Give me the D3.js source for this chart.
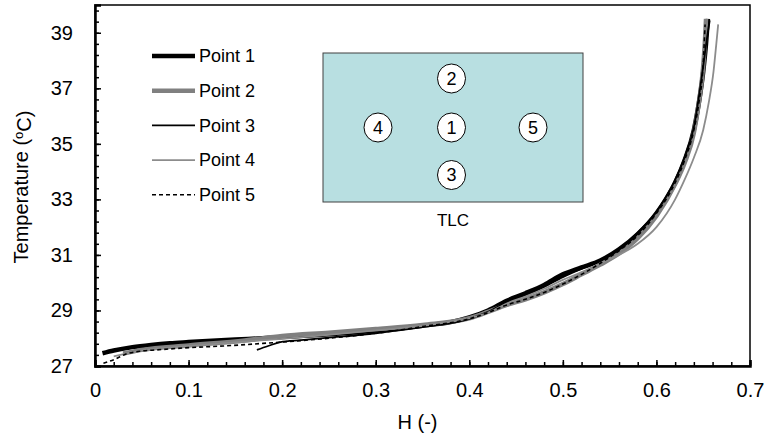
<!DOCTYPE html>
<html>
<head>
<meta charset="utf-8">
<script src="https://cdn.jsdelivr.net/npm/d3@7"></script>
<style>
  body { margin: 0; background: #fff; }
  text { font-family: "Liberation Sans", Arial, sans-serif; fill: #000; }
</style>
</head>
<body>
<div class="chart"></div>
<script>
// H (-) and temperature (C), one pair of arrays per point
const p1H = [0.008, 0.02, 0.04, 0.06, 0.08, 0.10, 0.15, 0.20, 0.25, 0.30, 0.35, 0.38, 0.40, 0.42, 0.44, 0.46, 0.48, 0.50, 0.52, 0.54, 0.56, 0.58, 0.60, 0.61, 0.62, 0.63, 0.64, 0.645, 0.65, 0.653, 0.655];
const p1T = [27.46, 27.56, 27.68, 27.76, 27.82, 27.86, 27.95, 28.04, 28.14, 28.28, 28.45, 28.58, 28.75, 29.0, 29.35, 29.62, 29.92, 30.3, 30.55, 30.8, 31.2, 31.75, 32.5, 33.0, 33.6, 34.4, 35.5, 36.4, 37.6, 38.6, 39.5];

const p2H = [0.03, 0.05, 0.10, 0.16, 0.20, 0.25, 0.30, 0.35, 0.40, 0.42, 0.44, 0.46, 0.48, 0.50, 0.52, 0.54, 0.56, 0.58, 0.60, 0.62, 0.63, 0.64, 0.645, 0.65, 0.652, 0.653];
const p2T = [27.45, 27.58, 27.74, 27.92, 28.08, 28.2, 28.33, 28.48, 28.72, 28.95, 29.2, 29.4, 29.65, 29.95, 30.3, 30.65, 31.05, 31.6, 32.4, 33.55, 34.3, 35.4, 36.4, 37.8, 38.8, 39.5];

const p3H = [0.173, 0.185, 0.198, 0.22, 0.25, 0.30, 0.35, 0.40, 0.42, 0.44, 0.46, 0.48, 0.50, 0.52, 0.54, 0.56, 0.58, 0.60, 0.62, 0.63, 0.64, 0.65, 0.654, 0.657];
const p3T = [27.58, 27.72, 27.86, 27.93, 28.02, 28.18, 28.4, 28.7, 28.95, 29.3, 29.55, 29.85, 30.2, 30.5, 30.78, 31.2, 31.8, 32.55, 33.7, 34.5, 35.6, 37.8, 38.8, 39.45];

const p4H = [0.02, 0.05, 0.10, 0.15, 0.20, 0.25, 0.30, 0.35, 0.40, 0.42, 0.44, 0.46, 0.48, 0.50, 0.52, 0.54, 0.56, 0.58, 0.60, 0.62, 0.63, 0.64, 0.65, 0.656, 0.661, 0.664, 0.666];
const p4T = [27.35, 27.55, 27.72, 27.85, 27.98, 28.12, 28.28, 28.45, 28.72, 28.92, 29.25, 29.5, 29.78, 30.1, 30.38, 30.7, 31.0, 31.4, 32.0, 33.0, 33.7, 34.5, 35.5, 36.5, 37.6, 38.6, 39.3];

const p5H = [0.009, 0.021, 0.034, 0.05, 0.066, 0.10, 0.137, 0.19, 0.25, 0.30, 0.35, 0.40, 0.42, 0.44, 0.46, 0.48, 0.50, 0.52, 0.54, 0.56, 0.58, 0.60, 0.62, 0.63, 0.64, 0.645, 0.65, 0.652];
const p5T = [27.1, 27.24, 27.44, 27.54, 27.58, 27.66, 27.72, 27.84, 28.0, 28.18, 28.42, 28.7, 28.92, 29.2, 29.4, 29.65, 29.95, 30.3, 30.7, 31.15, 31.7, 32.5, 33.6, 34.4, 35.5, 36.4, 37.9, 39.3];

const seriesNames = ['Point 1', 'Point 2', 'Point 3', 'Point 4', 'Point 5'];
const xTicks = [0, 0.1, 0.2, 0.3, 0.4, 0.5, 0.6, 0.7];
const yTicks = [27, 29, 31, 33, 35, 37, 39];

// the little sketch of the plate: label and grid position of each probe
const probeLabels = ['1', '2', '3', '4', '5'];
const probeCol = [1, 1, 1, 0, 2];
const probeRow = [1, 0, 2, 1, 1];

const width = 769, height = 442;
const margin = {top: 5, right: 19, bottom: 76, left: 95};

const svg = d3.select('.chart')
  .append('svg')
  .attr('width', width)
  .attr('height', height);

const x = d3.scaleLinear().domain([0, 0.7]).range([margin.left, width - margin.right]);
const y = d3.scaleLinear().domain([27, 40]).range([height - margin.bottom, margin.top]);

const styles = [
  {color: '#000', w: 4.5, dash: null},
  {color: '#808080', w: 4.5, dash: null},
  {color: '#000', w: 1.8, dash: null},
  {color: '#8c8c8c', w: 1.8, dash: null},
  {color: '#000', w: 1.6, dash: '4,3'}
];

const series = [[p1H, p1T], [p2H, p2T], [p3H, p3T], [p4H, p4T], [p5H, p5T]].map(function(s, i) {
  return {name: seriesNames[i], style: styles[i], values: s[0].map(function(h, j) { return {h: h, t: s[1][j]}; })};
});

// frame
svg.append('rect')
  .attr('x', x(0)).attr('y', y(40))
  .attr('width', x(0.7) - x(0)).attr('height', y(27) - y(40))
  .attr('fill', 'none').attr('stroke', '#000').attr('stroke-width', 1.5);

// minor ticks
const xMinor = d3.range(0, 0.7001, 0.02);
const yMinor = d3.range(27, 40.001, 0.4);

svg.append('g')
  .attr('transform', 'translate(0,' + y(27) + ')')
  .call(d3.axisBottom(x).tickValues(xMinor).tickSize(-4).tickFormat(''))
  .call(function(g) { g.select('.domain').remove(); })
  .selectAll('line').attr('stroke-width', 1.5);

svg.append('g')
  .attr('transform', 'translate(' + x(0) + ',0)')
  .call(d3.axisLeft(y).tickValues(yMinor).tickSize(-4).tickFormat(''))
  .call(function(g) { g.select('.domain').remove(); })
  .selectAll('line').attr('stroke-width', 1.5);

// major ticks and labels
const xAxis = svg.append('g')
  .attr('transform', 'translate(0,' + y(27) + ')')
  .call(d3.axisBottom(x).tickValues(xTicks).tickSize(-6).tickPadding(17).tickFormat(d3.format('')));
xAxis.select('.domain').attr('stroke-width', 2.5);
xAxis.selectAll('line').attr('stroke-width', 1.5);
xAxis.selectAll('text').style('font-size', '20px').style('font-family', '"Liberation Sans", Arial, sans-serif');

const yAxis = svg.append('g')
  .attr('transform', 'translate(' + x(0) + ',0)')
  .call(d3.axisLeft(y).tickValues(yTicks).tickSize(-6).tickPadding(22));
yAxis.select('.domain').attr('stroke-width', 2.5);
yAxis.selectAll('line').attr('stroke-width', 1.5);
yAxis.selectAll('text').style('font-size', '20px').style('font-family', '"Liberation Sans", Arial, sans-serif');

// axis titles
svg.append('text')
  .attr('x', (x(0) + x(0.7)) / 2 - 5)
  .attr('y', 429)
  .attr('text-anchor', 'middle')
  .style('font-size', '20px')
  .text('H (-)');

const yTitle = svg.append('text')
  .attr('transform', 'translate(28,' + 187 + ') rotate(-90)')
  .attr('text-anchor', 'middle')
  .style('font-size', '20px');
yTitle.append('tspan').text('Temperature (');
yTitle.append('tspan').attr('dy', '-0.4em').style('font-size', '13px').text('o');
yTitle.append('tspan').attr('dy', '0.4em').text('C)');

// curves
const line = d3.line()
  .x(function(d) { return x(d.h); })
  .y(function(d) { return y(d.t); })
  .curve(d3.curveMonotoneX);

svg.append('g').selectAll('path')
  .data(series)
  .enter()
  .append('path')
  .attr('d', function(d) { return line(d.values); })
  .attr('fill', 'none')
  .attr('stroke', function(d) { return d.style.color; })
  .attr('stroke-width', function(d) { return d.style.w; })
  .attr('stroke-dasharray', function(d) { return d.style.dash; })
  .attr('stroke-linejoin', 'round');

// legend
const legend = svg.selectAll('.legend')
  .data(series)
  .enter()
  .append('g')
  .attr('class', 'legend')
  .attr('transform', function(_, i) { return 'translate(152,' + (56 + i * 34.7) + ')'; });

legend.append('line')
  .attr('x1', 0).attr('x2', 43)
  .attr('stroke', function(d) { return d.style.color; })
  .attr('stroke-width', function(d) { return d.style.w; })
  .attr('stroke-dasharray', function(d) { return d.style.dash; });

legend.append('text')
  .attr('x', 47)
  .attr('dy', '0.35em')
  .style('font-size', '18px')
  .text(function(d) { return d.name; });

// inset: the TLC plate with the probe positions
const inset = svg.append('g').attr('transform', 'translate(323,53)');
inset.append('rect')
  .attr('width', 260).attr('height', 149)
  .attr('fill', '#b8dfe1')
  .attr('stroke', '#404040').attr('stroke-width', 1);

const colX = [55, 128.5, 210];
const rowY = [25.5, 74.5, 122];

const probe = inset.selectAll('.probe')
  .data(probeLabels)
  .enter()
  .append('g')
  .attr('class', 'probe')
  .attr('transform', function(_, i) { return 'translate(' + colX[probeCol[i]] + ',' + rowY[probeRow[i]] + ')'; });

probe.append('ellipse')
  .attr('rx', 14).attr('ry', 14.5)
  .attr('fill', '#fff').attr('stroke', '#000').attr('stroke-width', 1);

probe.append('text')
  .attr('text-anchor', 'middle')
  .attr('dy', '0.36em')
  .style('font-size', '18px')
  .text(function(d) { return d; });

inset.append('text')
  .attr('x', 130).attr('y', 173)
  .attr('text-anchor', 'middle')
  .style('font-size', '17px')
  .text('TLC');
</script>
</body>
</html>
